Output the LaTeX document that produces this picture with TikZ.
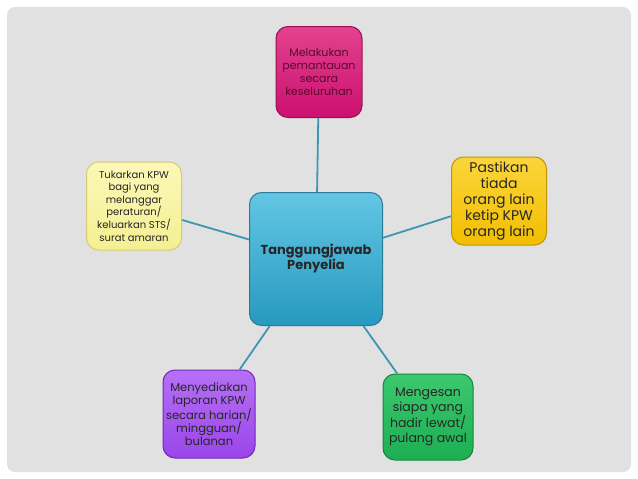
\documentclass[tikz,border=0pt]{standalone}
\usepackage{fontspec}
\setmainfont{Poppins}
\usetikzlibrary{positioning}
\definecolor{PageGray}{HTML}{E1E1E1}
\definecolor{LinkTeal}{HTML}{3E96B0}
\definecolor{PinkTop}{HTML}{E3428F}
\definecolor{PinkBot}{HTML}{CC1070}
\definecolor{PinkLine}{HTML}{9A0E4E}
\definecolor{GoldTop}{HTML}{FBD53C}
\definecolor{GoldBot}{HTML}{F2BE00}
\definecolor{GoldLine}{HTML}{C29500}
\definecolor{PaleTop}{HTML}{FBF8B8}
\definecolor{PaleBot}{HTML}{F5EF92}
\definecolor{PaleLine}{HTML}{D4CB78}
\definecolor{TealTop}{HTML}{63C6E4}
\definecolor{TealBot}{HTML}{2799BF}
\definecolor{TealLine}{HTML}{2A7C97}
\definecolor{VioTop}{HTML}{B670F6}
\definecolor{VioBot}{HTML}{9A45EA}
\definecolor{VioLine}{HTML}{7029B8}
\definecolor{GreenTop}{HTML}{3CC86E}
\definecolor{GreenBot}{HTML}{1DAE52}
\definecolor{GreenLine}{HTML}{12873C}

\begin{document}
\begin{tikzpicture}[
      x=1pt, y=-1pt,
      task/.style={
        rounded corners=12pt,
        line width=1pt,
        align=center,
        inner sep=1pt,
        text=black!85
      },
      link/.style={draw=LinkTeal, line width=1.8pt}
    ]
      \useasboundingbox (0,0) rectangle (638,479);
      \fill[PageGray, rounded corners=8pt] (7,7) rectangle (631,472);

      \node[task, minimum width=133pt, minimum height=133pt, draw=TealLine,
            top color=TealTop, bottom color=TealBot,
            font=\bfseries\fontsize{13}{15}\selectfont] (hub) at (316,259)
            {Tanggungjawab\\Penyelia};

      \node[task, minimum width=86pt, minimum height=91pt, draw=PinkLine,
            top color=PinkTop, bottom color=PinkBot, text=PinkLine!60!black,
            font=\fontsize{11}{13.2}\selectfont] (watch) at (319,72)
            {Melakukan\\pemantauan\\secara\\keseluruhan};
      \node[task, minimum width=95pt, minimum height=88pt, draw=GoldLine,
            top color=GoldTop, bottom color=GoldBot,
            font=\fontsize{14}{16}\selectfont] (check) at (499,201)
            {Pastikan\\tiada\\orang lain\\ketip KPW\\orang lain};
      \node[task, minimum width=95pt, minimum height=88pt, draw=PaleLine,
            top color=PaleTop, bottom color=PaleBot,
            font=\fontsize{10}{12.6}\selectfont] (swap) at (134,206)
            {Tukarkan KPW\\bagi yang\\melanggar\\peraturan/\\keluarkan STS/\\surat amaran};
      \node[task, minimum width=92pt, minimum height=88pt, draw=VioLine,
            top color=VioTop, bottom color=VioBot,
            font=\fontsize{11.5}{13}\selectfont] (report) at (209,414)
            {Menyediakan\\laporan KPW\\secara harian/\\mingguan/\\bulanan};
      \node[task, minimum width=90pt, minimum height=86pt, draw=GreenLine,
            top color=GreenTop, bottom color=GreenBot,
            font=\fontsize{12.5}{14.7}\selectfont] (trace) at (428,417)
            {Mengesan\\siapa yang\\hadir lewat/\\pulang awal};

      % spokes from the hub
      \draw[link] (hub) -- (watch);
      \draw[link] (hub) -- (check);
      \draw[link] (hub) -- (swap);
      \draw[link] (hub) -- (report);
      \draw[link] (hub) -- (trace);
    \end{tikzpicture}
\end{document}
